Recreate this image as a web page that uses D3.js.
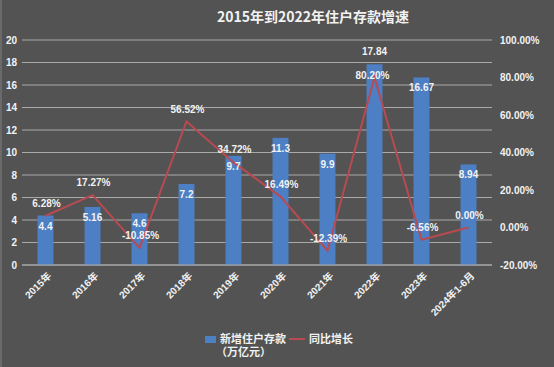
<!DOCTYPE html>
<html>
<head>
<meta charset="utf-8">
<script src="https://cdn.jsdelivr.net/npm/d3@7"></script>
<style>
	body { margin: 0; background: #535353; }
	svg { display: block; }
	text { font-family: "Liberation Sans", "Noto Sans CJK SC", sans-serif; font-weight: bold; fill: #f2f2f2; }
</style>
</head>
<body>
<script>
// chart data
var categories = ['2015年', '2016年', '2017年', '2018年', '2019年', '2020年', '2021年', '2022年', '2023年', '2024年1-6月'];
var deposits = [4.4, 5.16, 4.6, 7.2, 9.7, 11.3, 9.9, 17.84, 16.67, 8.94];
var growth = [6.28, 17.27, -10.85, 56.52, 34.72, 16.49, -12.39, 80.20, -6.56, 0.00];
var leftTicks = [0, 2, 4, 6, 8, 10, 12, 14, 16, 18, 20];
var rightTicks = [-20, 0, 20, 40, 60, 80, 100];

var width = 554, height = 367;
var plot = { left: 22, right: 492, top: 40, bottom: 265 };

var svg = d3.select('body').append('svg')
	.attr('width', width)
	.attr('height', height);

// background with the lighter frame edge on the left
svg.append('rect').attr('width', width).attr('height', height).attr('fill', '#535353');
svg.append('rect').attr('width', 2).attr('height', height).attr('fill', '#6a6a6a');

// scales
var x = d3.scaleBand()
	.domain(categories)
	.range([plot.left, plot.right])
	.paddingInner(0.66)
	.paddingOuter(0.33);

var yLeft = d3.scaleLinear().domain([0, 20]).range([plot.bottom, plot.top]);
var yRight = d3.scaleLinear().domain([-20, 100]).range([plot.bottom, plot.top]);

// title
svg.append('text')
	.attr('x', 313)
	.attr('y', 22)
	.attr('text-anchor', 'middle')
	.style('font-family', '"Noto Sans CJK SC", sans-serif')
	.style('font-size', '14px')
	.text('2015年到2022年住户存款增速');

// gridlines
svg.append('g').selectAll('line')
	.data(leftTicks)
	.enter().append('line')
	.attr('x1', plot.left)
	.attr('x2', plot.right)
	.attr('y1', function(d) { return yLeft(d); })
	.attr('y2', function(d) { return yLeft(d); })
	.attr('stroke', '#a9a9a9')
	.attr('stroke-width', 1.2);

// left axis
var gl = svg.append('g')
	.attr('transform', 'translate(' + plot.left + ',0)')
	.call(d3.axisLeft(yLeft).tickValues(leftTicks).tickSize(0).tickPadding(5));
gl.select('.domain').remove();
gl.selectAll('text').style('font-size', '10px').style('font-family', null).attr('fill', '#f2f2f2');

// right axis
var gr = svg.append('g')
	.attr('transform', 'translate(' + plot.right + ',0)')
	.call(d3.axisRight(yRight).tickValues(rightTicks).tickSize(0).tickPadding(8)
		.tickFormat(function(d) { return d.toFixed(2) + '%'; }));
gr.select('.domain').remove();
gr.selectAll('text').style('font-size', '10px').style('font-family', null).attr('fill', '#f2f2f2');

// bars
svg.append('g').selectAll('rect')
	.data(deposits)
	.enter().append('rect')
	.attr('x', function(d, i) { return x(categories[i]); })
	.attr('y', function(d) { return yLeft(d); })
	.attr('width', x.bandwidth())
	.attr('height', function(d) { return yLeft(0) - yLeft(d); })
	.attr('fill', '#4c7fc4');

// bottom axis line
svg.append('line')
	.attr('x1', plot.left).attr('x2', plot.right)
	.attr('y1', plot.bottom).attr('y2', plot.bottom)
	.attr('stroke', '#a9a9a9').attr('stroke-width', 1.2);

// growth line
var line = d3.line()
	.x(function(d, i) { return x(categories[i]) + x.bandwidth() / 2; })
	.y(function(d) { return yRight(d); });

svg.append('path')
	.datum(growth)
	.attr('d', line)
	.attr('fill', 'none')
	.attr('stroke', '#b84a52')
	.attr('stroke-width', 2);

// bar value labels: inside the top of the bar, the tallest one sits above
var maxDeposit = d3.max(deposits);
svg.append('g').selectAll('text')
	.data(deposits)
	.enter().append('text')
	.attr('x', function(d, i) { return x(categories[i]) + x.bandwidth() / 2; })
	.attr('y', function(d) { return d === maxDeposit ? yLeft(d) - 9 : yLeft(d) + 14; })
	.attr('text-anchor', 'middle')
	.style('font-size', '10px')
	.text(function(d) { return String(d); });

// growth labels: above the points, the peak one sits on it
var maxGrowth = d3.max(growth);
svg.append('g').selectAll('text')
	.data(growth)
	.enter().append('text')
	.attr('x', function(d, i) { return x(categories[i]) + x.bandwidth() / 2 + (d === maxGrowth ? -2 : 1); })
	.attr('y', function(d) { return d === maxGrowth ? yRight(d) + 2 : yRight(d) - 9; })
	.attr('text-anchor', 'middle')
	.style('font-size', '10px')
	.text(function(d) { return d.toFixed(2) + '%'; });

// category labels, rotated
svg.append('g').selectAll('text')
	.data(categories)
	.enter().append('text')
	.attr('transform', function(d) {
		return 'translate(' + (x(d) + x.bandwidth() / 2 + 4) + ',' + (plot.bottom + 9) + ') rotate(-45)';
	})
	.attr('text-anchor', 'end')
	.attr('dy', '0.35em')
	.style('font-size', '10px')
	.text(function(d) { return d; });

// legend
var legend = svg.append('g').style('font-family', '"Noto Sans CJK SC", sans-serif').style('font-size', '11px');
legend.append('rect').attr('x', 205).attr('y', 336).attr('width', 11).attr('height', 7).attr('fill', '#4c7fc4');
legend.append('text').attr('x', 220).attr('y', 343).text('新增住户存款');
legend.append('text').attr('x', 216).attr('y', 356).text('（万亿元）');
legend.append('line').attr('x1', 289).attr('x2', 305).attr('y1', 339).attr('y2', 339)
	.attr('stroke', '#b84a52').attr('stroke-width', 2);
legend.append('text').attr('x', 309).attr('y', 343).text('同比增长');
</script>
</body>
</html>
